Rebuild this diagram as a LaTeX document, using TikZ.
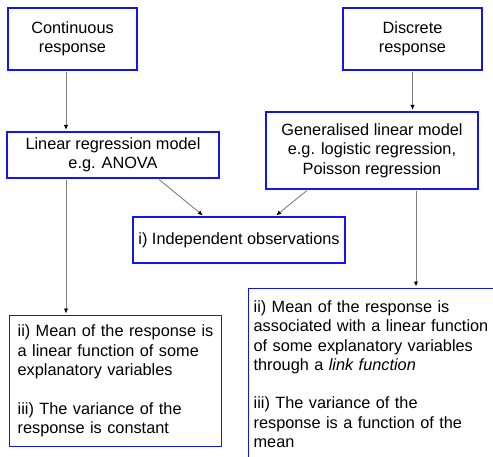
\documentclass[tikz,border=0pt]{standalone}
\usepackage{fontspec}
\setmainfont{Liberation Sans}
\usetikzlibrary{arrows.meta}
\definecolor{boxblue}{RGB}{20,20,240}
\begin{document}
\begin{tikzpicture}[x=1pt,y=-1pt,
  box/.style={draw=boxblue, line width=1.3pt,
    font=\fontsize{16.3}{19.3}\selectfont, inner sep=0pt, align=center},
  txtbox/.style={box, align=left, anchor=north west},
  arr/.style={draw=gray, line width=0.9pt, shorten <=1.5pt, shorten >=1.5pt,
    -{Latex[black,length=5pt,width=4.5pt]}}]
\useasboundingbox (0,0) rectangle (493,456);
\clip (0,0) rectangle (493,456);
\node[box, minimum width=129pt, minimum height=62pt] (cont) at (72.5,39) {Continuous\\response};
\node[box, minimum width=212pt, minimum height=46pt] (lin) at (113,155) {Linear regression model\\e.g. ANOVA};
\node[box, minimum width=139pt, minimum height=62pt] (disc) at (412.5,39) {Discrete\\response};
\node[box, minimum width=212pt, minimum height=77pt] (glm) at (372,150.5) {Generalised linear model\\e.g. logistic regression,\\Poisson regression};
\node[box, minimum width=212pt, minimum height=46pt] (ind) at (239,240) {i) Independent observations};
\node[txtbox, text width=196pt, inner xsep=8pt, inner ysep=9.5pt] (lb) at (9,315)
  {ii) Mean of the response is\\a linear function of some\\explanatory variables\\[\baselineskip]iii) The variance of the\\response is constant};
\node[txtbox, text width=246pt, inner xsep=5pt, inner ysep=12pt] (rb) at (248,288)
  {ii) Mean of the response is\\associated with a linear function\\of some explanatory variables\\through a \textit{link function}\\[\baselineskip]iii) The variance of the\\response is a function of the\\mean};
\draw[arr] ([xshift=-6.5pt]cont.south) -- ([xshift=-6.5pt]cont.south |- lin.north);
\draw[arr] (disc.south) -- (disc.south |- glm.north);
\draw[arr] ([xshift=-47pt]lin.south) -- ([xshift=-47pt]lin.south |- lb.north);
\draw[arr] ([xshift=44pt]glm.south) -- ([xshift=44pt]glm.south |- rb.north);
\draw[arr] ([xshift=45pt]lin.south) -- ([xshift=-35pt]ind.north);
\draw[arr] ([xshift=-64pt]glm.south) -- ([xshift=36pt]ind.north);
\end{tikzpicture}
\end{document}
